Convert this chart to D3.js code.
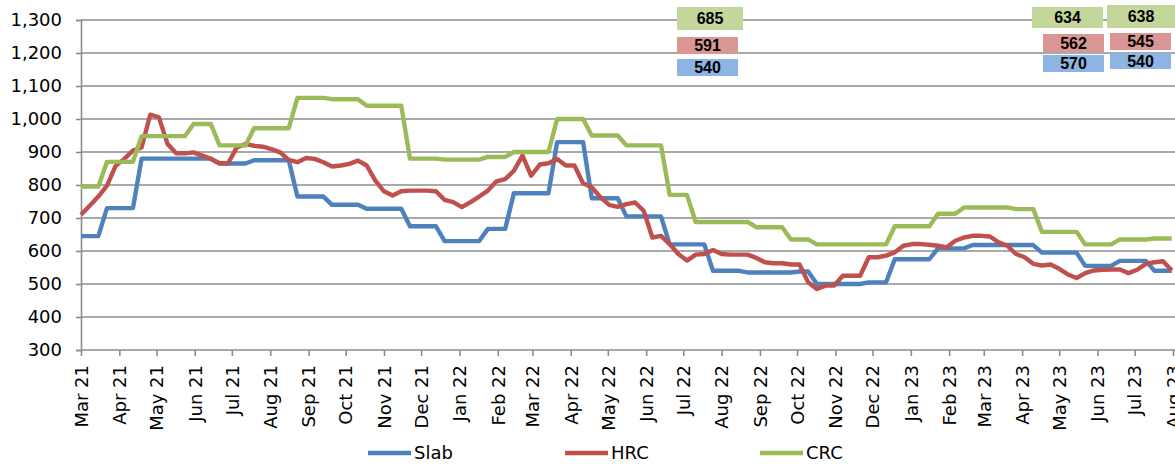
<!DOCTYPE html>
<html>
<head>
<meta charset="utf-8">
<script src="https://cdn.jsdelivr.net/npm/d3@7"></script>
<style>
  html, body { margin: 0; padding: 0; background: #fff; }
  svg { display: block; }
</style>
</head>
<body>
<svg id="chart" width="1175" height="464"></svg>
<script>
// ---- data ----
const startDate = "2021-03-01";          // first weekly observation
const weekCount = 127;                   // weekly observations
const monthTicks = ["Mar 21","Apr 21","May 21","Jun 21","Jul 21","Aug 21","Sep 21","Oct 21","Nov 21","Dec 21",
  "Jan 22","Feb 22","Mar 22","Apr 22","May 22","Jun 22","Jul 22","Aug 22","Sep 22","Oct 22","Nov 22","Dec 22",
  "Jan 23","Feb 23","Mar 23","Apr 23","May 23","Jun 23","Jul 23","Aug 23"];
const yTicks = [300,400,500,600,700,800,900,1000,1100,1200,1300];
const seriesNames = ["Slab","HRC","CRC"];

const slab = [645,645,645,730,730,730,730,880,880,880,880,880,880,880,880,880,865,865,865,865,
  875,875,875,875,875,765,765,765,765,740,740,740,740,728,728,728,728,728,675,675,
  675,675,630,630,630,630,630,667,667,667,775,775,775,775,775,930,930,930,930,760,
  760,760,760,705,705,705,705,705,620,620,620,620,620,540,540,540,540,535,535,535,
  535,535,535,538,538,500,500,500,500,500,500,505,505,505,575,575,575,575,575,608,
  608,608,608,618,618,618,618,618,618,618,618,595,595,595,595,595,555,555,555,555,
  570,570,570,570,540,540,540];

const hrc = [710,737,765,798,858,879,904,914,1013,1005,924,896,896,899,889,879,866,866,914,924,
  919,916,909,899,876,869,882,879,869,856,859,864,874,859,813,781,768,781,783,783,
  783,781,755,748,733,748,765,783,811,818,843,889,828,862,866,879,859,859,805,793,
  763,740,734,742,747,722,641,646,621,591,571,589,591,603,591,589,589,589,579,566,
  563,563,559,559,505,485,495,495,525,525,525,581,581,586,596,616,621,621,619,616,
  611,631,641,646,646,644,626,616,591,581,561,556,559,546,529,518,533,541,543,544,
  544,533,543,561,566,569,541];

const crc = [795,795,795,870,870,870,870,948,948,948,948,948,948,985,985,985,920,920,920,920,
  972,972,972,972,972,1064,1064,1064,1064,1060,1060,1060,1060,1040,1040,1040,1040,1040,880,880,
  880,880,877,877,877,877,877,885,885,885,900,900,900,900,900,1000,1000,1000,1000,950,
  950,950,950,920,920,920,920,920,770,770,770,688,688,688,688,688,688,688,672,672,
  672,672,635,635,635,620,620,620,620,620,620,620,620,620,675,675,675,675,675,713,
  713,713,732,732,732,732,732,732,727,727,727,658,658,658,658,658,620,620,620,620,
  635,635,635,635,638,638,638];

// value call-outs (labels only)
const calloutMid = ["685","591","540"];     // CRC, HRC, Slab
const calloutLeft = ["634","562","570"];
const calloutRight = ["638","545","540"];

// ---- layout ----
const colors = {Slab:"#4F81BD", HRC:"#C0504D", CRC:"#9BBB59"};
const boxColors = ["#C4D79B","#DA9694","#8DB4E2"];
const svg = d3.select("#chart");
const plotLeft = 81, plotRight = 1173, gridRight = 1175, plotTop = 20, plotBottom = 350;
const parse = d3.timeParse("%Y-%m-%d");
const d0 = parse(startDate);
const dates = d3.range(weekCount).map(i => d3.timeDay.offset(d0, 7 * i));

const x = d3.scaleTime().domain([parse("2021-03-01"), parse("2023-08-01")]).range([plotLeft, plotRight]);
const y = d3.scaleLinear().domain([300, 1300]).range([plotBottom, plotTop]);

const grey = "#8C8C8C";

// gridlines
svg.append("g").selectAll("line").data(yTicks.filter(v => v > 300)).join("line")
  .attr("x1", plotLeft).attr("x2", gridRight)
  .attr("y1", d => y(d)).attr("y2", d => y(d))
  .attr("stroke", grey).attr("stroke-width", 1.6);

// y axis
const yAxis = d3.axisLeft(y).tickValues(yTicks).tickSize(5).tickPadding(14)
  .tickFormat(d3.format(","));
const gy = svg.append("g").attr("transform", `translate(${plotLeft},0)`).call(yAxis);
gy.select(".domain").attr("stroke", grey).attr("stroke-width", 1.6);
gy.selectAll(".tick line").attr("stroke", grey).attr("stroke-width", 1.6);
gy.selectAll(".tick text").attr("font-family", "DejaVu Sans").attr("font-size", 18).attr("fill", "#000");

// x axis
const tickDates = monthTicks.map((m, i) => d3.timeMonth.offset(parse("2021-03-01"), i));
const xAxis = d3.axisBottom(x).tickValues(tickDates).tickSize(6)
  .tickFormat((d, i) => monthTicks[i]);
const gx = svg.append("g").attr("transform", `translate(0,${plotBottom})`).call(xAxis);
gx.select(".domain").attr("d", `M${plotLeft},0H${gridRight}`).attr("stroke", grey).attr("stroke-width", 1.6);
gx.selectAll(".tick line").attr("stroke", grey).attr("stroke-width", 1.6);
gx.selectAll(".tick text")
  .attr("font-family", "DejaVu Sans").attr("font-size", 18).attr("fill", "#000")
  .attr("text-anchor", "end")
  .attr("transform", "translate(0,15) rotate(-90)")
  .attr("x", 0).attr("y", 0).attr("dy", "0.35em");

// lines
const seriesData = {Slab: slab, HRC: hrc, CRC: crc};
const line = d3.line().x((d, i) => x(dates[i])).y(d => y(d));
seriesNames.forEach(name => {
  svg.append("path").datum(seriesData[name])
    .attr("fill", "none").attr("stroke", colors[name])
    .attr("stroke-width", 4.4).attr("stroke-linejoin", "round").attr("stroke-linecap", "butt")
    .attr("d", line);
});

// call-out boxes
function box(x0, y0, w, h, fill, label) {
  svg.append("rect").attr("x", x0).attr("y", y0).attr("width", w).attr("height", h).attr("fill", fill);
  svg.append("text").attr("x", x0 + w / 2).attr("y", y0 + h / 2).attr("dy", "0.36em")
    .attr("text-anchor", "middle").attr("font-family", "Liberation Sans, Arial").attr("font-weight", "bold")
    .attr("font-size", 16).attr("fill", "#000").text(label);
}
box(677, 7, 66, 23, boxColors[0], calloutMid[0]);
box(677, 37, 61, 17, boxColors[1], calloutMid[1]);
box(677, 59, 61, 17, boxColors[2], calloutMid[2]);
box(1032, 7, 71, 21, boxColors[0], calloutLeft[0]);
box(1043, 34, 61, 18, boxColors[1], calloutLeft[1]);
box(1043, 55, 61, 17, boxColors[2], calloutLeft[2]);
box(1107, 5, 68, 23, boxColors[0], calloutRight[0]);
box(1110, 33, 61, 17, boxColors[1], calloutRight[1]);
box(1110, 53, 61, 16, boxColors[2], calloutRight[2]);

// legend
const legendX = [368, 565, 760];
const lg = svg.append("g");
seriesNames.forEach((name, i) => {
  lg.append("line").attr("x1", legendX[i]).attr("x2", legendX[i] + 43)
    .attr("y1", 453).attr("y2", 453).attr("stroke", colors[name]).attr("stroke-width", 4.4);
  lg.append("text").attr("x", legendX[i] + 46).attr("y", 453).attr("dy", "0.36em")
    .attr("font-family", "DejaVu Sans").attr("font-size", 18).attr("fill", "#000").text(name);
});
</script>
</body>
</html>
